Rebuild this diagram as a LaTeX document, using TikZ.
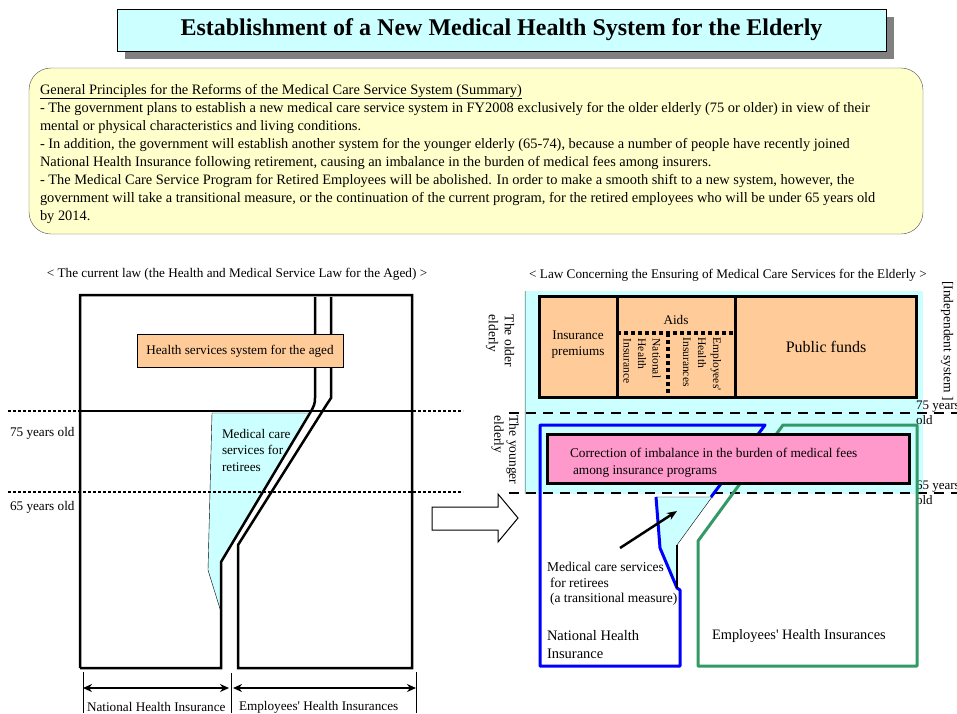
\documentclass[tikz,border=0pt]{standalone}
\usepackage{fontspec}
\setmainfont{Liberation Serif}
\usetikzlibrary{arrows.meta,positioning}
\definecolor{boxCyan}{HTML}{CCFFFF}
\definecolor{boxPeach}{HTML}{FFCC99}
\definecolor{boxPink}{HTML}{FF99CC}
\definecolor{boxYellow}{HTML}{FFFFCC}
\definecolor{shadowGray}{HTML}{808080}
\definecolor{nhiBlue}{HTML}{0000FF}
\definecolor{ehiGreen}{HTML}{339966}
\newcommand{\apos}{\textquotesingle}
\tikzset{
	txt/.style={inner sep=0pt, outer sep=0pt, font=\fontsize{13.2}{16}\selectfont},
	vtxt/.style={txt, rotate=-90, align=left},
	outline/.style={line width=2.5pt, line join=miter},
	agedot/.style={line width=2.5pt, dash pattern=on 2.5pt off 2.5pt},
	agedash/.style={line width=2.5pt, dash pattern=on 10pt off 7pt},
	aiddot/.style={line width=3.5pt, dash pattern=on 3.5pt off 3.5pt},
	fundline/.style={line width=3pt},
	dimarrow/.style={{Stealth[length=9pt,width=8pt]}-{Stealth[length=9pt,width=8pt]}, line width=1.5pt},
	sysline/.style={line width=3pt, line join=round}
}

\begin{document}
\begin{tikzpicture}[x=1pt,y=-1pt]
	\useasboundingbox (0,0) rectangle (957,713);
	% title
	\fill[shadowGray] (125,17) rectangle (894,59);
	\node[draw, fill=boxCyan, minimum width=769, minimum height=42, inner sep=0,
		font=\bfseries\fontsize{24}{26}\selectfont] (title) at (501.5,30)
		{Establishment of a New Medical Health System for the Elderly};
	% summary
	\draw[draw=black!70, fill=boxYellow, rounded corners=22] (29,68) rectangle (923,234);
	\node[txt, anchor=north west, align=left, font=\fontsize{14.4}{18}\selectfont] (summary) at (40,84) {
		\underline{General Principles for the Reforms of the Medical Care Service System (Summary)}\\
		- The government plans to establish a new medical care service system in FY2008 exclusively for the older elderly (75 or older) in view of their\\
		mental or physical characteristics and living conditions.\\
		- In addition, the government will establish another system for the younger elderly (65-74), because a number of people have recently joined\\
		National Health Insurance following retirement, causing an imbalance in the burden of medical fees among insurers.\\
		- The Medical Care Service Program for Retired Employees will be abolished. In order to make a smooth shift to a new system, however, the\\
		government will take a transitional measure, or the continuation of the current program, for the retired employees who will be under 65 years old\\
		by 2014.};

	% current law
	\node[txt] (curLaw) at (237,274) {< The current law (the Health and Medical Service Law for the Aged) >};
	\draw[fill=boxCyan, thin] (212,413) -- (310,413) -- (221,562) -- (221,612) -- (208,570) -- cycle;
	\draw[outline] (80,668) -- (80,295) -- (412,295) -- (412,668) -- (238,668) -- (238,545)
		-- (327,404) -- (331,398) -- (331,297);
	\draw[outline] (80,668) -- (221,668) -- (221,562) -- (310,413)
		.. controls (314,406) and (315,404) .. (315,398) -- (315,297);
	\draw[line width=1.5pt] (80,411) -- (412,411);
	\node[draw, fill=boxPeach, minimum width=206, minimum height=33, txt] (aged) at (240,351)
		{Health services system for the aged};
	\node[txt, anchor=west, align=left, font=\fontsize{13.2}{16.5}\selectfont] (retiree) at (222,450)
		{Medical care\\services for\\retirees};
	\draw[agedot] (8,411) -- (463,411);
	\draw[agedot] (8,492) -- (463,492);
	\node[txt, anchor=west] (age75) at (10,433) {75 years old};
	\node[txt, anchor=west] (age65) at (10,507) {65 years old};
	% widths at the bottom
	\coordinate (nhiL) at (83,688);
	\coordinate (nhiR) at (229,688);
	\coordinate (ehiL) at (233,688);
	\coordinate (ehiR) at (416,688);
	\draw (83,672) -- (83,713);
	\draw (231,673) -- (231,713);
	\draw (416,672) -- (416,713);
	\draw[dimarrow] (nhiL) -- (nhiR);
	\draw[dimarrow] (ehiL) -- (ehiR);
	\node[txt, anchor=west] (nhiLab) at (87,707) {National Health Insurance};
	\node[txt, anchor=west] (ehiLab) at (239,707) {Employees\apos{} Health Insurances};

	% hollow arrow
	\draw[fill=white, line width=1pt] (432,507) -- (498,507) -- (498,494) -- (518,518)
		-- (498,542) -- (498,530) -- (432,530) -- cycle;

	% new law
	\node[txt] (newLaw) at (728,275) {< Law Concerning the Ensuring of Medical Care Services for the Elderly >};
	\fill[boxCyan] (524,291) rectangle (923,494);
	\draw[black!35] (525,291) -- (525,494);
	\draw[fundline, fill=boxPeach] (539,296) rectangle (916,397);
	\draw[fundline] (617,296) -- (617,397);
	\draw[fundline] (735,296) -- (735,397);
	\draw[aiddot] (617,333) -- (735,333);
	\draw[aiddot] (668,333) -- (668,397);
	\node[txt, align=center, font=\fontsize{13.2}{16}\selectfont] (premium) at (578,345) {Insurance\\premiums};
	\node[txt] (aids) at (676,320) {Aids};
	\node[vtxt, font=\fontsize{11.5}{14.5}\selectfont] (aidNhi) at (642,361) {National\\Health\\Insurance};
	\node[vtxt, font=\fontsize{11.5}{15}\selectfont] (aidEhi) at (702,364) {Employees\apos\\Health\\Insurances};
	\node[txt, font=\fontsize{16}{19}\selectfont] (funds) at (826,347) {Public funds};
	\node[vtxt, font=\fontsize{13.5}{16}\selectfont] (older) at (500,341) {The older\\elderly};
	\node[vtxt, font=\fontsize{13.5}{15}\selectfont] (younger) at (505,450) {The younger\\elderly};
	\node[vtxt, font=\fontsize{13.5}{15}\selectfont] (indep) at (947,341) {[Independent system ]};
	\draw[agedash] (509,413) -- (957,413);
	\draw[agedash] (509,493) -- (957,493);
	\node[txt, anchor=west, align=left, font=\fontsize{13}{15}\selectfont] (new75) at (916,412.5) {75 years\\old};
	\node[txt, anchor=west, align=left, font=\fontsize{13}{15}\selectfont] (new65) at (916,492.5) {65 years\\old};
	% insurers
	\draw[fill=boxCyan, thin] (656,497) -- (712,497) -- (677,545) -- (677,588) -- (660,548) -- cycle;
	\draw[sysline, nhiBlue] (711,497) -- (765,425) -- (540,425) -- (540,666) -- (680,666) -- (680,590)
		-- (677,588) -- (660,548) -- (656,497);
	\draw[line width=2pt] (677,545) -- (677,588);
	\draw[sysline, ehiGreen] (917,425) -- (783,425) -- (698,541) -- (698,666) -- (917,666) -- cycle;
	\draw[line width=3pt, fill=boxPink] (547,434) rectangle (909,483);
	\node[txt, anchor=west, align=left, font=\fontsize{13.3}{17}\selectfont] (imbalance) at (570,462.5)
		{Correction of imbalance in the burden of medical fees\\\hspace{3pt}among insurance programs};
	\node[txt, anchor=west, align=left, font=\fontsize{13.5}{15.5}\selectfont] (transit) at (547,584)
		{Medical care services\\\hspace{3pt}for retirees\\\hspace{3pt}(a transitional measure)};
	\coordinate (transitTip) at (677,511);
	\draw[-{Stealth[length=10pt,width=8pt]}, line width=2.5pt] (620,548) -- (transitTip);
	\node[txt, anchor=west, align=left, font=\fontsize{14.5}{18}\selectfont] (newNhi) at (547,645)
		{National Health\\Insurance};
	\node[txt, anchor=west, font=\fontsize{14.4}{18}\selectfont] (newEhi) at (712,636) {Employees\apos{} Health Insurances};
\end{tikzpicture}
\end{document}
